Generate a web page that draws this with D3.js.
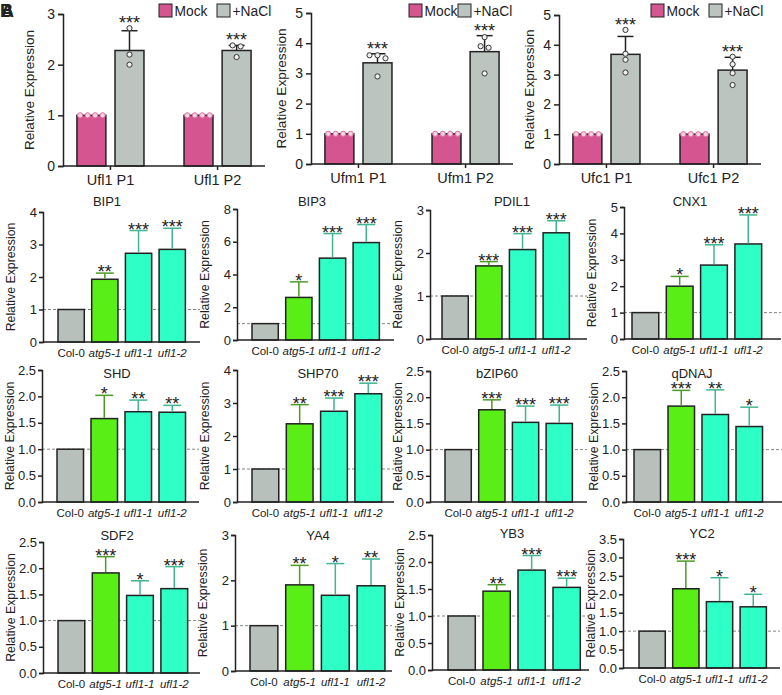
<!DOCTYPE html>
<html>
<head>
<meta charset="utf-8">
<script src="https://cdn.jsdelivr.net/npm/d3@7"></script>
<style>
  body { margin: 0; background: #fff; }
  text { font-family: Arial, "Liberation Sans", sans-serif; fill: #222; }
</style>
</head>
<body>
<div class="fig"></div>
<script>
// ---- data: top row (qPCR, Mock vs +NaCl) ----
var topGenes = [["Ufl1 P1", "Ufl1 P2"], ["Ufm1 P1", "Ufm1 P2"], ["Ufc1 P1", "Ufc1 P2"]],
    topSeries = ["Mock", "+NaCl"],
    topMax = [3, 5, 5],
    mockMean = [[1, 1], [1, 1], [1, 1]],
    mockPoints = [1, 1, 1, 1],
    naclMean = [[2.28, 2.28], [3.35, 3.72], [3.68, 3.15]],
    naclErr = [[2.67, 2.38], [3.65, 4.25], [4.28, 3.58]],
    naclPoints = [
        [[2.72, 2.2, 2.0], [2.38, 2.36, 2.15]],
        [[3.6, 3.6, 3.5, 2.9], [4.2, 3.9, 3.85, 3.0]],
        [[4.5, 3.7, 3.5, 3.07], [3.6, 3.35, 3.05, 2.65]]
    ],
    topSig = [["***", "***"], ["***", "***"], ["***", "***"]];

// ---- data: small panels (lines vs Col-0) ----
var lines = ["Col-0", "atg5-1", "ufl1-1", "ufl1-2"],
    genes = ["BIP1", "BIP3", "PDIL1", "CNX1", "SHD", "SHP70", "bZIP60", "qDNAJ", "SDF2", "YA4", "YB3", "YC2"],
    geneMax = [4, 8, 3, 5, 2.5, 4, 2.5, 2.5, 2.5, 3, 2.5, 3.5],
    geneTickStep = [1, 2, 1, 1, 0.5, 1, 0.5, 0.5, 0.5, 1, 0.5, 0.5],
    means = [
        [1, 1.93, 2.73, 2.85], [1, 2.6, 5.0, 5.95], [1, 1.7, 2.08, 2.47], [1, 2.0, 2.8, 3.6],
        [1, 1.58, 1.71, 1.7], [1, 2.37, 2.75, 3.28], [1, 1.76, 1.52, 1.5], [1, 1.83, 1.67, 1.44],
        [1, 1.91, 1.48, 1.61], [1, 1.9, 1.67, 1.88], [1, 1.46, 1.85, 1.53], [1, 2.15, 1.8, 1.66]
    ],
    errTop = [
        [null, 2.12, 3.43, 3.5], [null, 3.55, 6.5, 7.05], [null, 1.8, 2.45, 2.75], [null, 2.37, 3.57, 4.7],
        [null, 2.02, 1.93, 1.83], [null, 2.95, 3.15, 3.6], [null, 1.95, 1.83, 1.85], [null, 2.13, 2.14, 1.81],
        [null, 2.22, 1.76, 2.03], [null, 2.33, 2.37, 2.47], [null, 1.58, 2.12, 1.7], [null, 2.9, 2.45, 2.0]
    ],
    sig = [
        ["", "**", "***", "***"], ["", "*", "***", "***"], ["", "***", "***", "***"], ["", "*", "***", "***"],
        ["", "*", "**", "**"], ["", "**", "***", "***"], ["", "***", "***", "***"], ["", "***", "**", "*"],
        ["", "***", "*", "***"], ["", "**", "*", "**"], ["", "**", "***", "***"], ["", "***", "*", "*"]
    ];

// ---- layout (pixel frames) ----
var topFrames = [
    { x: 63, top: 14, zero: 166, legend: [159, 217], ylab: 33 },
    { x: 311, top: 13, zero: 164, legend: [409, 458], ylab: 285 },
    { x: 559, top: 15, zero: 164, legend: [651, 709], ylab: 533 }
];
var frames = [
    { x: 43, top: 212, zero: 342, bar0: 58, step: 33.7, tx: 107, ty: 206 },
    { x: 237, top: 209, zero: 340, bar0: 252, step: 33.7, tx: 312, ty: 206 },
    { x: 430, top: 210, zero: 339, bar0: 442, step: 33.7, tx: 512, ty: 206 },
    { x: 624, top: 207, zero: 339, bar0: 632, step: 34.3, tx: 690, ty: 206 },
    { x: 42, top: 370, zero: 502, bar0: 57, step: 34, tx: 117, ty: 378 },
    { x: 237, top: 370, zero: 502, bar0: 252, step: 34.3, tx: 318, ty: 378 },
    { x: 430, top: 371, zero: 502, bar0: 445, step: 33.7, tx: 497, ty: 378 },
    { x: 626, top: 371, zero: 502, bar0: 634, step: 34, tx: 692, ty: 378 },
    { x: 43, top: 542, zero: 673, bar0: 58, step: 34.3, tx: 117, ty: 540 },
    { x: 235, top: 535, zero: 671, bar0: 250, step: 35.7, tx: 318, ty: 540 },
    { x: 432, top: 535, zero: 670, bar0: 448, step: 35, tx: 512, ty: 538 },
    { x: 623, top: 539, zero: 668, bar0: 639, step: 33.7, tx: 702, ty: 538 }
];

var mockColor = "#d4558f",
    naclColor = "#bcc4c0",
    lineFill = ["#b8c0bc", "#58ee16", "#2effc6", "#2effc6"],
    errColor = ["#666", "#4d9a26", "#3fb592", "#3fb592"],
    ink = "#222";

var svg = d3.select(".fig").append("svg")
    .attr("width", 782)
    .attr("height", 695);

// panel letters (overlapping A / B as in the source)
svg.append("text").attr("x", 0).attr("y", 17).style("font-size", "18px").style("font-weight", "bold").text("B");
svg.append("text").attr("x", 1).attr("y", 17).style("font-size", "18px").style("font-weight", "bold").text("A");

// spread points that sit on top of each other
function swarm(values, y, gap) {
    var sorted = values.map(function (v, i) { return { v: v, i: i }; })
        .sort(function (a, b) { return b.v - a.v; });
    var groups = [], cur = [];
    sorted.forEach(function (p) {
        if (cur.length && Math.abs(y(cur[cur.length - 1].v) - y(p.v)) > 4) { groups.push(cur); cur = []; }
        cur.push(p);
    });
    if (cur.length) groups.push(cur);
    var out = [];
    groups.forEach(function (g) {
        g.forEach(function (p, k) { out.push({ v: p.v, dx: (k - (g.length - 1) / 2) * gap }); });
    });
    return out;
}

// ---- top row ----
topFrames.forEach(function (f, p) {
    var g = svg.append("g");
    var y = d3.scaleLinear().domain([0, topMax[p]]).range([f.zero, f.top]);
    var x0 = d3.scaleBand().domain(topGenes[p]).range([f.x, f.x + 202]).paddingInner(0.374).paddingOuter(0.13);
    var x1 = d3.scaleBand().domain(topSeries).range([0, x0.bandwidth()]).paddingInner(0.24);

    topGenes[p].forEach(function (gene, j) {
        var gx = x0(gene);
        // mock bar
        g.append("rect")
            .attr("x", gx + x1("Mock")).attr("y", y(mockMean[p][j]))
            .attr("width", x1.bandwidth()).attr("height", f.zero - y(mockMean[p][j]))
            .attr("fill", mockColor).attr("stroke", ink).attr("stroke-width", 1.5);
        // nacl bar
        g.append("rect")
            .attr("x", gx + x1("+NaCl")).attr("y", y(naclMean[p][j]))
            .attr("width", x1.bandwidth()).attr("height", f.zero - y(naclMean[p][j]))
            .attr("fill", naclColor).attr("stroke", ink).attr("stroke-width", 1.5);
        // error bar
        var cx = gx + x1("+NaCl") + x1.bandwidth() / 2;
        g.append("line").attr("x1", cx).attr("x2", cx)
            .attr("y1", y(naclMean[p][j])).attr("y2", y(naclErr[p][j]))
            .attr("stroke", ink).attr("stroke-width", 1.5);
        g.append("line").attr("x1", cx - 8).attr("x2", cx + 8)
            .attr("y1", y(naclErr[p][j])).attr("y2", y(naclErr[p][j]))
            .attr("stroke", ink).attr("stroke-width", 1.5);
        // points
        var mx = gx + x1("Mock") + x1.bandwidth() / 2;
        g.selectAll(null).data(swarm(mockPoints, y, 7.5)).enter().append("circle")
            .attr("cx", function (d) { return mx + d.dx; })
            .attr("cy", function (d) { return y(d.v); })
            .attr("r", 2.6).attr("fill", "#f3d3e2").attr("stroke", "#e06c9f").attr("stroke-width", 1);
        g.selectAll(null).data(swarm(naclPoints[p][j], y, 8)).enter().append("circle")
            .attr("cx", function (d) { return cx + d.dx; })
            .attr("cy", function (d) { return y(d.v); })
            .attr("r", 2.6).attr("fill", "#eef0ef").attr("stroke", "#333").attr("stroke-width", 1);
        // stars
        var starTop = Math.max(naclErr[p][j], d3.max(naclPoints[p][j]));
        g.append("text").attr("x", cx).attr("y", y(starTop) + 1)
            .attr("text-anchor", "middle").style("font-size", "18px").text(topSig[p][j]);
        // category label + tick
        g.append("text").attr("x", gx + x0.bandwidth() / 2).attr("y", f.zero + 19)
            .attr("text-anchor", "middle").style("font-size", "14.5px").text(gene);
        g.append("line").attr("x1", gx + x0.bandwidth() / 2).attr("x2", gx + x0.bandwidth() / 2)
            .attr("y1", f.zero).attr("y2", f.zero + 4).attr("stroke", ink).attr("stroke-width", 1.5);
    });

    // axes
    g.append("line").attr("x1", f.x).attr("x2", f.x + 202).attr("y1", f.zero).attr("y2", f.zero)
        .attr("stroke", ink).attr("stroke-width", 1.5);
    var ya = g.append("g").attr("transform", "translate(" + f.x + ",0)")
        .call(d3.axisLeft(y).ticks(topMax[p]).tickSize(5).tickPadding(3));
    ya.select(".domain").attr("stroke", ink).attr("stroke-width", 1.5);
    ya.selectAll(".tick line").attr("stroke", ink).attr("stroke-width", 1.5);
    ya.selectAll(".tick text").style("font-size", "14px").style("font-family", "Arial, sans-serif").attr("fill", ink);
    g.append("text").attr("transform", "translate(" + (f.ylab - 4) + "," + (f.zero + f.top) / 2 + ") rotate(-90)")
        .attr("text-anchor", "middle").attr("dy", "0.35em").style("font-size", "13.6px").text("Relative Expression");

    // legend
    topSeries.forEach(function (s, k) {
        g.append("rect").attr("x", f.legend[k]).attr("y", 4).attr("width", 13).attr("height", 13)
            .attr("fill", k === 0 ? mockColor : naclColor).attr("stroke", ink).attr("stroke-width", 1);
        g.append("text").attr("x", f.legend[k] + 15.5).attr("y", 16).style("font-size", "13.8px").text(s);
    });
});

// ---- small panels ----
frames.forEach(function (f, p) {
    var g = svg.append("g");
    var y = d3.scaleLinear().domain([0, geneMax[p]]).range([f.zero, f.top]);
    var x = d3.scaleBand().domain(lines).range([f.bar0, f.bar0 + f.step * 3.78]).paddingInner(0.22).paddingOuter(0);
    var axisEnd = f.x + 157;

    // dashed reference line at 1
    g.append("line").attr("x1", f.x).attr("x2", axisEnd).attr("y1", y(1)).attr("y2", y(1))
        .attr("stroke", "#666").attr("stroke-width", 0.8).attr("stroke-dasharray", "3,2");

    g.selectAll(".bar").data(lines).enter().append("rect")
        .attr("x", function (d) { return x(d); })
        .attr("y", function (d, i) { return y(means[p][i]); })
        .attr("width", x.bandwidth())
        .attr("height", function (d, i) { return f.zero - y(means[p][i]); })
        .attr("fill", function (d, i) { return lineFill[i]; })
        .attr("stroke", ink).attr("stroke-width", 1.5);

    lines.forEach(function (l, i) {
        if (errTop[p][i] == null) return;
        var cx = x(l) + x.bandwidth() / 2;
        g.append("line").attr("x1", cx).attr("x2", cx)
            .attr("y1", y(means[p][i]) - 0.75).attr("y2", y(errTop[p][i]))
            .attr("stroke", errColor[i]).attr("stroke-width", 1.5);
        g.append("line").attr("x1", cx - 9).attr("x2", cx + 9)
            .attr("y1", y(errTop[p][i])).attr("y2", y(errTop[p][i]))
            .attr("stroke", errColor[i]).attr("stroke-width", 1.5);
        g.append("text").attr("x", cx).attr("y", y(errTop[p][i]) + 5)
            .attr("text-anchor", "middle").style("font-size", "18px").text(sig[p][i]);
    });

    // x axis + labels
    g.append("line").attr("x1", f.x).attr("x2", axisEnd).attr("y1", f.zero).attr("y2", f.zero)
        .attr("stroke", ink).attr("stroke-width", 1.5);
    g.selectAll(".xl").data(lines).enter().append("text")
        .attr("x", function (d) { return x(d) + x.bandwidth() / 2; })
        .attr("y", f.zero + 14.5)
        .attr("text-anchor", "middle")
        .style("font-size", "11.5px")
        .style("font-style", function (d, i) { return i === 0 ? "normal" : "italic"; })
        .text(function (d) { return d; });

    // y axis
    var ticks = d3.range(0, geneMax[p] + 1e-9, geneTickStep[p]);
    var ya = g.append("g").attr("transform", "translate(" + f.x + ",0)")
        .call(d3.axisLeft(y).tickValues(ticks).tickSize(4).tickPadding(2)
            .tickFormat(geneTickStep[p] < 1 ? d3.format(".1f") : d3.format("d")));
    ya.select(".domain").attr("stroke", ink).attr("stroke-width", 1.5);
    ya.selectAll(".tick line").attr("stroke", ink).attr("stroke-width", 1.5);
    ya.selectAll(".tick text").style("font-size", "13px").style("font-family", "Arial, sans-serif").attr("fill", ink);

    g.append("text").attr("transform", "translate(" + (f.x - 32) + "," + (f.zero + f.top) / 2 + ") rotate(-90)")
        .attr("text-anchor", "middle").attr("dy", "0.35em").style("font-size", "12.3px").text("Relative Expression");

    g.append("text").attr("x", f.tx).attr("y", f.ty).attr("text-anchor", "middle")
        .style("font-size", "13px").text(genes[p]);
});
</script>
</body>
</html>
